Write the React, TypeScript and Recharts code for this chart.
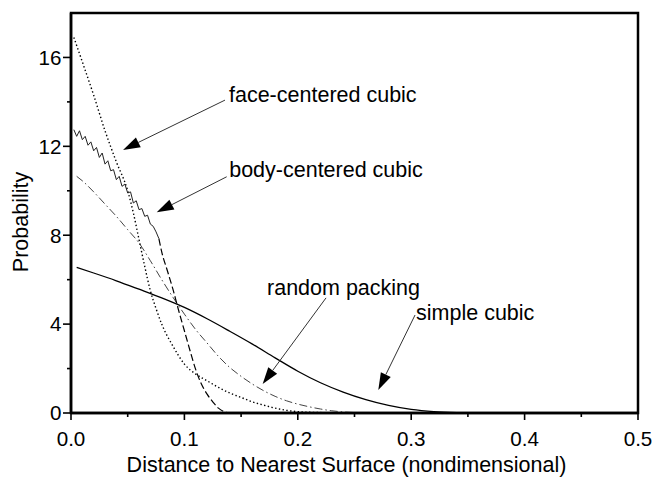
import { LineChart, Line, XAxis, YAxis, ReferenceArea, ReferenceLine } from "recharts";

const FONT = '"Liberation Sans", Arial, Helvetica, sans-serif';

// x ticks every 0.05 (labels on 0.1 multiples), y ticks every 2 (labels on multiples of 4)
const xTicks = [0, 0.05, 0.1, 0.15, 0.2, 0.25, 0.3, 0.35, 0.4, 0.45, 0.5];
const yTicks = [0, 2, 4, 6, 8, 10, 12, 14, 16];

// simple cubic (solid)
const simpleX = [0.005, 0.02, 0.04, 0.06, 0.08, 0.1, 0.12, 0.14, 0.16, 0.18, 0.2, 0.22, 0.24, 0.26, 0.28, 0.3, 0.32, 0.34, 0.36, 0.4, 0.45, 0.5];
const simpleY = [6.55, 6.3, 5.95, 5.57, 5.18, 4.75, 4.24, 3.68, 3.1, 2.48, 1.88, 1.36, 0.94, 0.6, 0.34, 0.16, 0.06, 0.015, 0, 0, 0, 0];

// face-centered cubic (dotted)
const fccX = [0.0025, 0.01, 0.02, 0.03, 0.04, 0.05, 0.055, 0.06, 0.065, 0.07, 0.075, 0.08, 0.09, 0.1, 0.11, 0.12, 0.13, 0.14, 0.15, 0.16, 0.17, 0.18, 0.19, 0.2, 0.22, 0.24, 0.3, 0.4, 0.5];
const fccY = [16.9, 15.8, 14.3, 12.7, 11.3, 10.0, 9.0, 7.8, 6.6, 5.5, 4.7, 4.0, 3.0, 2.2, 1.75, 1.45, 1.15, 0.9, 0.7, 0.5, 0.35, 0.22, 0.12, 0.06, 0.02, 0, 0, 0, 0];

// body-centered cubic: noisy start, then dashed
const bccNoisyX = [0.0025, 0.005, 0.0075, 0.01, 0.0125, 0.015, 0.0175, 0.02, 0.0225, 0.025, 0.0275, 0.03, 0.0325, 0.035, 0.0375, 0.04, 0.0425, 0.045, 0.0475, 0.05, 0.0525, 0.055, 0.0575, 0.06, 0.0625, 0.065, 0.0675, 0.07, 0.0725, 0.075, 0.0775];
const bccNoisyY = [12.75, 12.45, 12.7, 12.3, 12.45, 12.05, 12.2, 11.8, 11.95, 11.5, 11.7, 11.2, 11.35, 10.9, 10.95, 10.5, 10.65, 10.2, 10.3, 9.9, 9.95, 9.45, 9.55, 9.15, 9.2, 8.85, 8.9, 8.5, 8.4, 8.15, 7.85];
const bccTailX = [0.0775, 0.08, 0.085, 0.09, 0.095, 0.1, 0.105, 0.11, 0.115, 0.12, 0.125, 0.13, 0.135, 0.14, 0.2, 0.3, 0.4, 0.5];
const bccTailY = [7.85, 7.25, 6.4, 5.55, 4.6, 3.7, 2.8, 1.95, 1.3, 0.85, 0.5, 0.22, 0.06, 0, 0, 0, 0, 0];

// random packing (dash-dot)
const randomX = [0.005, 0.01, 0.02, 0.03, 0.04, 0.05, 0.06, 0.07, 0.08, 0.09, 0.1, 0.11, 0.12, 0.13, 0.14, 0.15, 0.16, 0.17, 0.18, 0.19, 0.2, 0.21, 0.22, 0.23, 0.24, 0.25, 0.26, 0.3, 0.4, 0.5];
const randomY = [10.65, 10.45, 9.95, 9.4, 8.85, 8.25, 7.65, 6.85, 6.0, 5.2, 4.45, 3.75, 3.15, 2.55, 2.05, 1.65, 1.3, 1.0, 0.75, 0.55, 0.4, 0.28, 0.18, 0.1, 0.05, 0.02, 0, 0, 0, 0];

const zip = (xs: number[], ys: number[]) => xs.map((x, i) => ({ x, y: ys[i] }));

const simpleData = zip(simpleX, simpleY);
const fccData = zip(fccX, fccY);
const bccNoisyData = zip(bccNoisyX, bccNoisyY);
const bccTailData = zip(bccTailX, bccTailY);
const randomData = zip(randomX, randomY);

// annotation arrows: from label end to arrow tip, in data units
const annotations = [
  { text: "face-centered cubic", from: { x: 0.1358, y: 14.08 }, to: { x: 0.0459, y: 11.84 }, dx: 4, dy: 2 },
  { text: "body-centered cubic", from: { x: 0.1373, y: 10.63 }, to: { x: 0.0756, y: 9.03 }, dx: 2.5, dy: 0.5 },
  { text: "random packing", from: { x: 0.2249, y: 5.18 }, to: { x: 0.169, y: 1.3 }, dx: -59, dy: -3 },
  { text: "simple cubic", from: { x: 0.3034, y: 4.41 }, to: { x: 0.271, y: 1.04 }, dx: 1, dy: 5 },
];

function XTick({ x, y, payload }: any) {
  const v = payload.value as number;
  const major = Math.abs(v * 10 - Math.round(v * 10)) < 1e-6;
  return (
    <g>
      <line x1={x} x2={x} y1={y} y2={y + (major ? 7 : 4)} stroke="#000" strokeWidth={1.6} />
      {major && (
        <text x={x} y={y + 33} textAnchor="middle" fontSize={20.6} fontFamily={FONT} fill="#000">
          {v.toFixed(1)}
        </text>
      )}
    </g>
  );
}

function YTick({ x, y, payload }: any) {
  const v = payload.value as number;
  const major = v % 4 === 0;
  return (
    <g>
      <line x1={x - (major ? 8 : 4)} x2={x} y1={y} y2={y} stroke="#000" strokeWidth={1.6} />
      {major && (
        <text x={x - 9.5} y={y + 7.3} textAnchor="end" fontSize={20.6} fontFamily={FONT} fill="#000">
          {v}
        </text>
      )}
    </g>
  );
}

function makeArrow(text: string, dx: number, dy: number) {
  return (props: any) => {
    const { x1, y1, x2, y2 } = props;
    const len = Math.hypot(x2 - x1, y2 - y1);
    const ux = (x2 - x1) / len;
    const uy = (y2 - y1) / len;
    const head = 17;
    const w = 5.5;
    const bx = x2 - ux * head;
    const by = y2 - uy * head;
    const pts = `${x2},${y2} ${bx - uy * w},${by + ux * w} ${bx + uy * w},${by - ux * w}`;
    return (
      <g>
        <line x1={x1} y1={y1} x2={bx} y2={by} stroke="#333" strokeWidth={1} />
        <polygon points={pts} fill="#000" />
        <text x={x1 + dx} y={y1 + dy} fontSize={21.5} fontFamily={FONT} fill="#000">
          {text}
        </text>
      </g>
    );
  };
}

export default function App() {
  return (
    <div style={{ position: "absolute", left: 0, top: 0, width: 652, height: 477, background: "#fff" }}>
      <LineChart width={652} height={477} margin={{ top: 13, right: 14, left: 0, bottom: 0 }}>
        <XAxis
          dataKey="x"
          type="number"
          domain={[0, 0.5]}
          ticks={xTicks}
          interval={0}
          allowDataOverflow
          height={64}
          axisLine={{ stroke: "#000", strokeWidth: 2.5 }}
          tickLine={false}
          tickSize={0}
          tickMargin={0}
          tick={XTick}
        />
        <YAxis
          type="number"
          domain={[0, 18]}
          ticks={yTicks}
          interval={0}
          allowDataOverflow
          width={71}
          axisLine={{ stroke: "#000", strokeWidth: 2.5 }}
          tickLine={false}
          tickSize={0}
          tickMargin={0}
          tick={YTick}
        />
        <ReferenceArea x1={0} x2={0.5} y1={0} y2={18} fill="none" stroke="#000" strokeWidth={2.5} />
        <Line data={randomData} dataKey="y" type="monotone" stroke="#444" strokeWidth={1} strokeDasharray="8 3 1.5 3" dot={false} isAnimationActive={false} />
        <Line data={simpleData} dataKey="y" type="monotone" stroke="#000" strokeWidth={1.3} dot={false} isAnimationActive={false} />
        <Line data={fccData} dataKey="y" type="monotone" stroke="#000" strokeWidth={1.4} strokeDasharray="1.4 2.4" dot={false} isAnimationActive={false} />
        <Line data={bccNoisyData} dataKey="y" type="linear" stroke="#222" strokeWidth={1} dot={false} isAnimationActive={false} />
        <Line data={bccTailData} dataKey="y" type="monotone" stroke="#000" strokeWidth={1.2} strokeDasharray="7 3" dot={false} isAnimationActive={false} />
        {annotations.map((a) => (
          <ReferenceLine
            key={a.text}
            segment={[a.from, a.to]}
            ifOverflow="visible"
            shape={makeArrow(a.text, a.dx, a.dy)}
          />
        ))}
        <text x={346.5} y={472} textAnchor="middle" fontSize={21.5} fontFamily={FONT} fill="#000">
          Distance to Nearest Surface (nondimensional)
        </text>
        <text x={28} y={222} textAnchor="middle" fontSize={21.5} fontFamily={FONT} fill="#000" transform="rotate(-90 28 222)">
          Probability
        </text>
      </LineChart>
    </div>
  );
}
